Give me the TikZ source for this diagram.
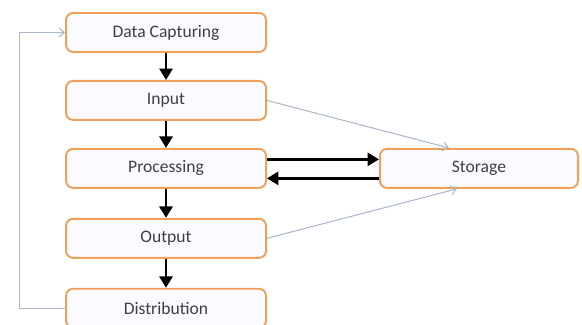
\documentclass[tikz,border=0pt]{standalone}
\usepackage{fontspec}
\setmainfont{Carlito}
\usepackage{tikz}
\usetikzlibrary{arrows.meta,positioning}
\definecolor{boxorange}{HTML}{EFA15A}
\definecolor{linegray}{HTML}{A9B7C9}
\definecolor{textgray}{HTML}{404040}

\begin{document}
\begin{tikzpicture}[
  >=Latex, node distance=5.4mm,
  every node/.style={font=\fontsize{10}{12}\selectfont, text=textgray},
  stage/.style={draw=boxorange, line width=1.1pt, rounded corners=4pt, fill=blue!2,
        minimum width=40mm, minimum height=7.8mm},
  flow/.style={-{Triangle[width=7.5pt,length=6.5pt]}, line width=1.4pt, black},
  link/.style={-{Straight Barb[width=5pt,length=3pt]}, line width=0.6pt, linegray}
]
  \useasboundingbox (0,0) rectangle (11.64,-6.5);
  \node[stage] (cap) at (3.32,-0.65) {Data Capturing};
  \node[stage, below=of cap] (inp) {Input};
  \node[stage, below=of inp] (proc) {Processing};
  \node[stage, below=5.8mm of proc] (outp) {Output};
  \node[stage, below=5.8mm of outp] (dist) {Distribution};
  \node[stage, right=22.4mm of proc, minimum width=39.6mm] (stor) {Storage};
  \foreach \a/\b in {cap/inp,inp/proc,proc/outp,outp/dist} {
    \draw[flow] (\a.south) -- (\b.north);
  }
  \draw[flow] ([yshift=1.8mm]proc.east) -- ([yshift=1.8mm]stor.west);
  \draw[flow] ([yshift=-2mm]stor.west) -- ([yshift=-2mm]proc.east);
  \draw[link] (inp.east) -- ([xshift=-6mm]stor.north);
  \draw[link] (outp.east) -- ([xshift=-4.4mm]stor.south);
  \draw[link] (dist.west) -- ++(-9.2mm,0) |- (cap.west);
\end{tikzpicture}
\end{document}
